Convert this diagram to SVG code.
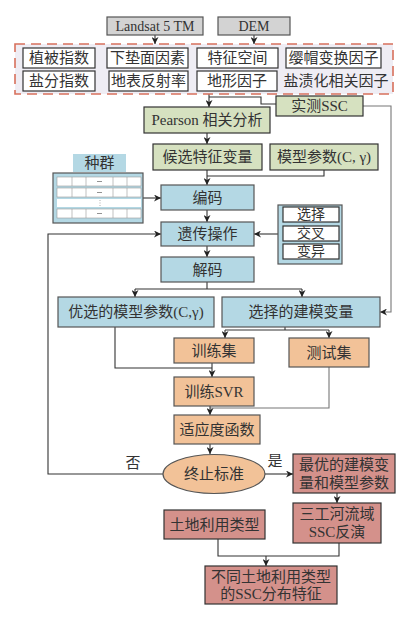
<svg xmlns="http://www.w3.org/2000/svg" width="417" height="621" viewBox="0 0 417 621">
<style>
text{font-family:"Liberation Serif","Noto Sans CJK SC",serif;font-size:15px;fill:#333;text-anchor:middle}
.s{font-size:14px}
.gray{fill:#d3d3d3;stroke:#555;stroke-width:1.2}
.wb{fill:#fff;stroke:#333;stroke-width:1.2}
.gr{fill:#d6e1c0;stroke:#333;stroke-width:1.2}
.bl{fill:#b4d8e4;stroke:#555;stroke-width:1.2}
.or{fill:#f2c298;stroke:#555;stroke-width:1.2}
.ro{fill:#d4918b;stroke:#333;stroke-width:1.2}
.ln{fill:none;stroke:#333;stroke-width:1.1}
.lg{fill:none;stroke:#777;stroke-width:1.1}
.cell{fill:#fff;stroke:#999;stroke-width:0.6}
</style>
<defs>
<marker id="a" viewBox="0 0 10 10" refX="10" refY="5" markerWidth="7" markerHeight="7" orient="auto" markerUnits="userSpaceOnUse">
<path d="M0,0 L10,5 L0,10 L3,5 Z" fill="#222"/>
</marker>
</defs>
<rect width="417" height="621" fill="#fff"/>

<g id="connectors">
<path class="ln" d="M155,35 V44" marker-end="url(#a)"/>
<path class="ln" d="M254,35 V44" marker-end="url(#a)"/>
<path class="ln" d="M209,94 V107" marker-end="url(#a)"/>
<path class="ln" d="M276,104 H261 V97 H209"/>
<path class="lg" d="M363,106 H391 V312 H380" marker-end="url(#a)"/>
<path class="ln" d="M207,133 V144" marker-end="url(#a)"/>
<path class="ln" d="M207,170 V185" marker-end="url(#a)"/>
<path class="ln" d="M324,170 V176 H207"/>
<path class="ln" d="M143,198 H161" marker-end="url(#a)"/>
<path class="ln" d="M207,210 V222" marker-end="url(#a)"/>
<path class="ln" d="M278,234 H254" marker-end="url(#a)"/>
<path class="ln" d="M207,246 V257" marker-end="url(#a)"/>
<path class="ln" d="M207,282 V289"/>
<path class="ln" d="M135,289 H302"/>
<path class="ln" d="M135,289 V297" marker-end="url(#a)"/>
<path class="ln" d="M302,289 V297" marker-end="url(#a)"/>
<path class="ln" d="M285,327 V330"/>
<path class="ln" d="M225,330 H329"/>
<path class="ln" d="M225,330 V338" marker-end="url(#a)"/>
<path class="ln" d="M329,330 V338" marker-end="url(#a)"/>
<path class="ln" d="M115,327 V368 H212"/>
<path class="ln" d="M212,363 V377" marker-end="url(#a)"/>
<path class="lg" d="M329,367 V408 H210"/>
<path class="ln" d="M210,406 V415" marker-end="url(#a)"/>
<path class="ln" d="M210,444 V454" marker-end="url(#a)"/>
<path class="ln" d="M163,474 H48 V234 H161" marker-end="url(#a)"/>
<path class="ln" d="M265,474 H293" marker-end="url(#a)"/>
<path class="ln" d="M337,493 V503" marker-end="url(#a)"/>
<path class="ln" d="M218,539 V556 H339 V543"/>
<path class="ln" d="M266,556 V566" marker-end="url(#a)"/>
</g>

<g id="landsat"><rect class="gray" x="107" y="17" width="96" height="18"/><text class="s" x="155" y="31">Landsat 5 TM</text></g>
<g id="dem"><rect class="gray" x="218" y="17" width="72" height="18"/><text class="s" x="254" y="31">DEM</text></g>

<g id="features">
<rect x="15" y="44" width="378" height="50" fill="#efedf4" stroke="#d8705c" stroke-width="1.6" stroke-dasharray="10,6"/>
<g id="n-zhibei"><rect class="wb" x="23" y="48" width="72" height="20"/><text x="59" y="63">植被指数</text></g>
<g id="n-xiadian"><rect class="wb" x="107" y="48" width="81" height="20"/><text x="147.5" y="63">下垫面因素</text></g>
<g id="n-tezheng"><rect class="wb" x="197" y="48" width="81" height="20"/><text x="237.5" y="63">特征空间</text></g>
<g id="n-yingmao"><rect class="wb" x="286" y="48" width="95" height="20"/><text x="333.5" y="63">缨帽变换因子</text></g>
<g id="n-yanfen"><rect class="wb" x="23" y="71" width="72" height="20"/><text x="59" y="86">盐分指数</text></g>
<g id="n-dibiao"><rect class="wb" x="109" y="71" width="79" height="20"/><text x="148.5" y="86">地表反射率</text></g>
<g id="n-dixing"><rect class="wb" x="197" y="71" width="80" height="20"/><text x="237" y="86">地形因子</text></g>
<g id="n-yanzi"><text x="336" y="86">盐渍化相关因子</text></g>
</g>

<g id="ssc"><rect class="gr" x="276" y="96" width="87" height="20"/><text x="319.5" y="111">实测SSC</text></g>
<g id="pearson"><rect class="gr" x="144" y="107" width="126" height="26"/><text x="207" y="125">Pearson 相关分析</text></g>
<g id="houxuan"><rect class="gr" x="153" y="144" width="109" height="26"/><text x="207.5" y="162">候选特征变量</text></g>
<g id="canshu"><rect class="gr" x="270" y="144" width="108" height="26"/><text x="324" y="162">模型参数(C, γ)</text></g>

<g id="zhongqun">
<rect x="73" y="154" width="53" height="18" fill="#b4d8e4"/><text x="99.5" y="168">种群</text>
<rect class="bl" x="53" y="173" width="90" height="50"/>
<rect class="cell" x="57" y="177" width="84" height="9"/>
<rect class="cell" x="57" y="188" width="84" height="9"/>
<rect x="57" y="199" width="84" height="8" fill="#fff"/>
<rect class="cell" x="57" y="209" width="84" height="9"/>
<path stroke="#999" stroke-width="0.6" d="M72,177V186M86,177V186M113,177V186M127,177V186M72,188V197M86,188V197M113,188V197M127,188V197M72,209V218M86,209V218M113,209V218M127,209V218"/>
<path stroke="#777" stroke-width="0.8" d="M97,181.5H102M97,192.5H102M97,213.5H102"/>
<path stroke="#999" stroke-width="0.8" stroke-dasharray="1,1.5" d="M100,200V206"/>
</g>

<g id="bianma"><rect class="bl" x="161" y="185" width="93" height="25"/><text x="207.5" y="203">编码</text></g>
<g id="yichuan"><rect class="bl" x="161" y="222" width="93" height="24"/><text x="207.5" y="239">遗传操作</text></g>
<g id="jiema"><rect class="bl" x="161" y="257" width="93" height="25"/><text x="207.5" y="275">解码</text></g>
<g id="ops">
<rect class="bl" x="278" y="205" width="64" height="59"/>
<rect class="wb" x="283" y="207" width="56" height="15"/><text class="s" x="311" y="219">选择</text>
<rect class="wb" x="283" y="226" width="56" height="15"/><text class="s" x="311" y="238">交叉</text>
<rect class="wb" x="283" y="244" width="56" height="15"/><text class="s" x="311" y="256">变异</text>
</g>

<g id="youxuan"><rect class="bl" x="58" y="297" width="156" height="30"/><text x="136" y="317">优选的模型参数(C,γ)</text></g>
<g id="xuanze"><rect class="bl" x="222" y="297" width="158" height="30"/><text x="301" y="317">选择的建模变量</text></g>
<g id="xunlian"><rect class="or" x="174" y="338" width="80" height="25"/><text x="214" y="356">训练集</text></g>
<g id="ceshi"><rect class="or" x="289" y="338" width="80" height="29"/><text x="329" y="358">测试集</text></g>
<g id="svr"><rect class="or" x="174" y="377" width="80" height="29"/><text x="214" y="397">训练SVR</text></g>
<g id="shiying"><rect class="or" x="174" y="415" width="86" height="29"/><text x="217" y="435">适应度函数</text></g>
<g id="zhongzhi"><ellipse cx="214" cy="474" rx="51" ry="19.5" fill="#f2c298" stroke="#555" stroke-width="1.2"/><text x="214" y="479">终止标准</text></g>
<text x="133" y="468">否</text>
<text x="275" y="466">是</text>
<g id="zuiyou"><rect class="ro" x="293" y="454" width="102" height="39"/><text x="344" y="470">最优的建模变</text><text x="344" y="488">量和模型参数</text></g>
<g id="fanyan"><rect class="ro" x="293" y="503" width="88" height="40"/><text x="337" y="519">三工河流域</text><text x="337" y="537">SSC反演</text></g>
<g id="tudi"><rect class="ro" x="164" y="510" width="101" height="29"/><text x="214.5" y="530">土地利用类型</text></g>
<g id="butong"><rect class="ro" x="205" y="566" width="132" height="38"/><text x="271" y="582">不同土地利用类型</text><text x="271" y="599">的SSC分布特征</text></g>
</svg>
